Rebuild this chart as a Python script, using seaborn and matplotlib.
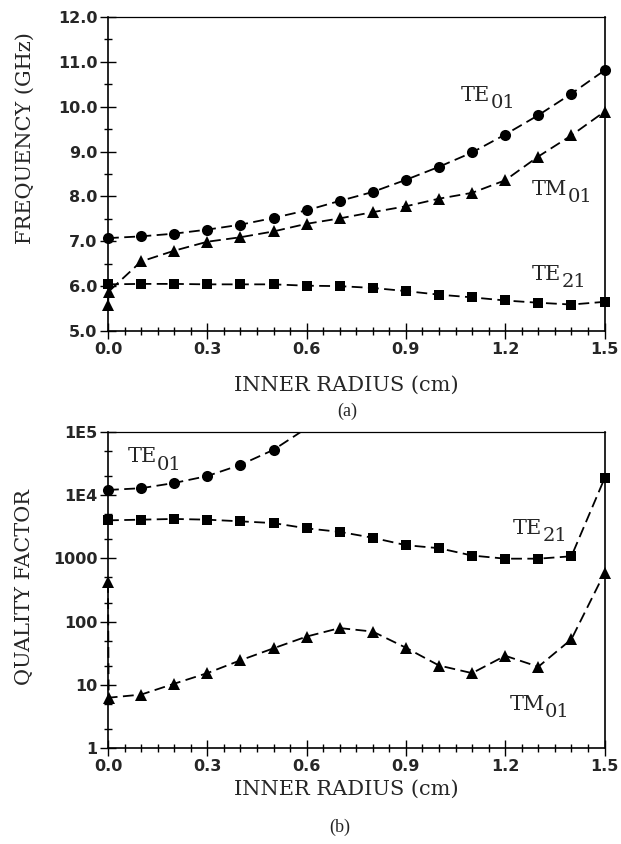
import numpy as np
import pandas as pd
import seaborn as sns
import matplotlib
matplotlib.use("Agg")
import matplotlib.pyplot as plt
from matplotlib.ticker import FixedLocator, FixedFormatter, MultipleLocator, LogLocator, NullFormatter

# ---- data ----
radius = [0.0, 0.1, 0.2, 0.3, 0.4, 0.5, 0.6, 0.7, 0.8, 0.9, 1.0, 1.1, 1.2, 1.3, 1.4, 1.5]
radius_tm = [0.0, 0.002, 0.1, 0.2, 0.3, 0.4, 0.5, 0.6, 0.7, 0.8, 0.9, 1.0, 1.1, 1.2, 1.3, 1.4, 1.5]
radius_te01_q = [0.0, 0.1, 0.2, 0.3, 0.4, 0.5, 0.6, 0.7]

# (a) frequency, GHz
te01_freq = [7.07, 7.11, 7.17, 7.26, 7.37, 7.52, 7.69, 7.90, 8.10, 8.37, 8.66, 8.98, 9.38, 9.81, 10.29, 10.81]
tm01_freq = [5.57, 5.88, 6.55, 6.79, 6.99, 7.09, 7.22, 7.39, 7.51, 7.65, 7.78, 7.95, 8.08, 8.36, 8.89, 9.36, 9.89]
te21_freq = [6.04, 6.05, 6.05, 6.04, 6.04, 6.04, 6.01, 6.00, 5.96, 5.89, 5.81, 5.75, 5.68, 5.63, 5.59, 5.65]

# (b) quality factor
te01_q = [12100, 12900, 15600, 20100, 30200, 52200, 115000, 260000]
te21_q = [4000, 4100, 4210, 4100, 3860, 3620, 2990, 2630, 2120, 1620, 1450, 1110, 990, 990, 1080, 18400]
tm01_q = [423, 6.25, 7.0, 10.4, 15.3, 24.4, 37.8, 58, 79, 69.5, 38.6, 20.2, 15.3, 28.8, 19.3, 52.5, 589]

x_ticks = [0.0, 0.3, 0.6, 0.9, 1.2, 1.5]
freq_ticks = [5, 6, 7, 8, 9, 10, 11, 12]
q_ticks = [1, 10, 100, 1000, 1e4, 1e5]
q_tick_labels = ["1", "10", "100", "1000", "1E4", "1E5"]

# mode labels: (main, subscript, x, y)
labels_a = [("TE", "01", 1.066, 10.13), ("TM", "01", 1.281, 8.04), ("TE", "21", 1.28, 6.14)]
labels_b = [("TE", "01", 0.059, 33500), ("TE", "21", 1.224, 2470), ("TM", "01", 1.213, 4.05)]

sns.set_style("ticks")
plt.rcParams["font.family"] = ["DejaVu Serif"]

W, H = 621, 844
fig = plt.figure(figsize=(W / 100, H / 100), dpi=100)
ax_a = fig.add_axes([108 / W, 1 - 331 / H, 496.5 / W, 314 / H])
ax_b = fig.add_axes([108 / W, 1 - 748 / H, 496.5 / W, 316 / H])

dash = (0, (6, 3))
line_kw = dict(color="black", linestyle=dash, linewidth=1.3, markeredgewidth=0,
               estimator=None, sort=False, legend=False)


def curve(ax, x, y, marker, ms, clip=False):
    sns.lineplot(x=x, y=y, ax=ax, marker=marker, markersize=ms, clip_on=clip, **line_kw)


def mode_label(ax, main, sub, x, y):
    t = ax.text(x, y, main, fontsize=15, family="DejaVu Serif", ha="left", va="baseline")
    ax.annotate(sub, xy=(1, 0), xycoords=t, xytext=(0.3, -2.6), textcoords="offset points",
                fontsize=14, family="DejaVu Serif", ha="left", va="baseline")


# ---- (a) ----
curve(ax_a, radius, te01_freq, "o", 8)
curve(ax_a, radius_tm, tm01_freq, "^", 8.5)
curve(ax_a, radius, te21_freq, "s", 7.5)
ax_a.set_xlim(0, 1.5)
ax_a.set_ylim(5, 12)
ax_a.yaxis.set_major_locator(FixedLocator(freq_ticks))
ax_a.yaxis.set_major_formatter(FixedFormatter([f"{v:.1f}" for v in freq_ticks]))
ax_a.yaxis.set_minor_locator(MultipleLocator(0.5))
for m in labels_a:
    mode_label(ax_a, *m)

# ---- (b) ----
curve(ax_b, radius_te01_q, te01_q, None, 0, clip=True)
vis = [(r, q) for r, q in zip(radius_te01_q, te01_q) if q <= 1e5]
ax_b.plot([r for r, q in vis], [q for r, q in vis], "o", color="black", ms=8,
          mew=0, clip_on=False, zorder=3)
curve(ax_b, radius, te21_q, "s", 7.5)
curve(ax_b, radius_tm, tm01_q, "^", 8.5)
ax_b.set_yscale("log")
ax_b.set_xlim(0, 1.5)
ax_b.set_ylim(1, 1e5)
ax_b.yaxis.set_major_locator(FixedLocator(q_ticks))
ax_b.yaxis.set_major_formatter(FixedFormatter(q_tick_labels))
ax_b.yaxis.set_minor_locator(LogLocator(base=10, subs=(2, 5)))
ax_b.yaxis.set_minor_formatter(NullFormatter())
for m in labels_b:
    mode_label(ax_b, *m)

for ax in (ax_a, ax_b):
    ax.set_xlabel("")
    ax.set_ylabel("")
    ax.xaxis.set_major_locator(FixedLocator(x_ticks))
    ax.xaxis.set_major_formatter(FixedFormatter([f"{v:.1f}" for v in x_ticks]))
    ax.xaxis.set_minor_locator(MultipleLocator(0.05))
    ax.tick_params(which="major", direction="inout", length=11, width=1.0, color="black",
                   top=False, right=False)
    ax.tick_params(which="minor", direction="inout", length=6, width=1.0, color="black",
                   top=False, right=False)
    ax.tick_params(axis="x", which="major", pad=2.5)
    ax.tick_params(axis="y", which="major", pad=2)
    for lab in ax.get_xticklabels() + ax.get_yticklabels():
        lab.set_family("DejaVu Sans")
        lab.set_fontweight("bold")
        lab.set_fontsize(11.5)
    for sp in ax.spines.values():
        sp.set_linewidth(1.2)
        sp.set_color("black")
    ax.spines["top"].set_linewidth(0.9)

# axis titles and captions
fig.text(25 / W, 1 - 138.5 / H, "FREQUENCY (GHz)", rotation=90, ha="center", va="center",
         fontsize=15, family="DejaVu Serif")
fig.text(25 / W, 1 - 587 / H, "QUALITY FACTOR", rotation=90, ha="center", va="center",
         fontsize=15, family="DejaVu Serif")
fig.text(346 / W, 1 - 391 / H, "INNER RADIUS (cm)", ha="center", va="baseline",
         fontsize=15, family="DejaVu Serif")
fig.text(346 / W, 1 - 795 / H, "INNER RADIUS (cm)", ha="center", va="baseline",
         fontsize=15, family="DejaVu Serif")
fig.text(347 / W, 1 - 416 / H, "(a)", ha="center", va="baseline", fontsize=13,
         family="Liberation Serif")
fig.text(340 / W, 1 - 832 / H, "(b)", ha="center", va="baseline", fontsize=13,
         family="Liberation Serif")

fig.savefig("out.png", dpi=100)
